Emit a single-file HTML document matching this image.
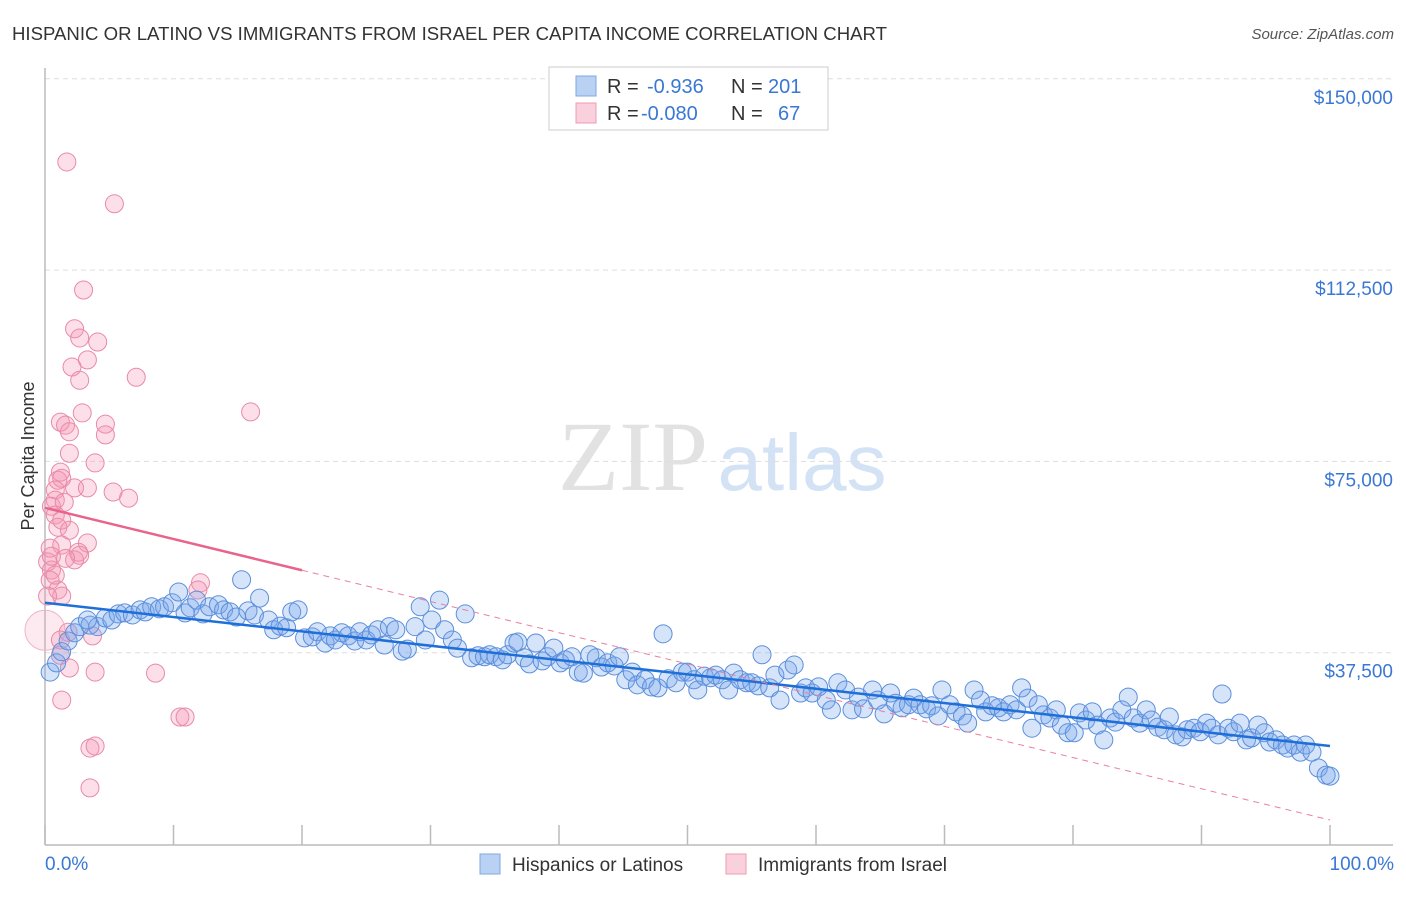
<!DOCTYPE html>
<html><head><meta charset="utf-8"><style>
body{margin:0;background:#fff;font-family:"Liberation Sans",sans-serif}
svg text{font-family:"Liberation Sans",sans-serif}
</style></head><body>
<svg id="chart" width="1406" height="892" viewBox="0 0 1406 892">
<text x="12" y="40" font-size="18" fill="#333" textLength="875" lengthAdjust="spacingAndGlyphs">HISPANIC OR LATINO VS IMMIGRANTS FROM ISRAEL PER CAPITA INCOME CORRELATION CHART</text>
<text x="1394" y="39" font-size="15" fill="#555" font-style="italic" text-anchor="end">Source: ZipAtlas.com</text>
<text x="34" y="456" font-size="18" fill="#333" text-anchor="middle" transform="rotate(-90 34 456)">Per Capita Income</text>
<g>
<text x="633" y="490" font-size="100" fill="#e2e2e2" text-anchor="middle" style="font-family:'Liberation Serif',serif">ZIP</text>
<text x="802" y="490" font-size="80" fill="#d3e2f4" text-anchor="middle">atlas</text>
</g>
<g id="grid"></g>
<g id="axes"></g>
<g id="marks"></g>
<g>
<rect x="549" y="67" width="279" height="63" fill="#fff" stroke="#ccc"/>
<rect x="576" y="76" width="20" height="20" fill="#b9d2f3" stroke="#7fa8e2"/>
<text x="607" y="93" font-size="20" fill="#333">R = </text>
<text x="647" y="93" font-size="20" fill="#3a78d4">-0.936</text>
<text x="731" y="93" font-size="20" fill="#333">N =</text>
<text x="768" y="93" font-size="20" fill="#3a78d4">201</text>
<rect x="576" y="103" width="20" height="20" fill="#fbd0dd" stroke="#eb9db4"/>
<text x="607" y="120" font-size="20" fill="#333">R = </text>
<text x="641" y="120" font-size="20" fill="#3a78d4">-0.080</text>
<text x="731" y="120" font-size="20" fill="#333">N =</text>
<text x="778" y="120" font-size="20" fill="#3a78d4">67</text>
</g>
<g>
<rect x="480" y="854" width="20" height="20" fill="#b9d2f3" stroke="#7fa8e2"/>
<text x="512" y="871" font-size="19" fill="#333">Hispanics or Latinos</text>
<rect x="726" y="854" width="20" height="20" fill="#fbd0dd" stroke="#eb9db4"/>
<text x="758" y="871" font-size="19" fill="#333">Immigrants from Israel</text>
</g>
<text x="45" y="870" font-size="19" fill="#3a78d4">0.0%</text>
<text x="1394" y="870" font-size="19" fill="#3a78d4" text-anchor="end">100.0%</text>
</svg>
<script>
const yTicks=[37500,75000,112500,150000];
const yTickLabels=["$37,500","$75,000","$112,500","$150,000"];
const xTicks=[0,10,20,30,40,50,60,70,80,90,100];
const blueX=[0.4,0.9,1.3,1.8,2.3,2.7,3.5,4.1,3.3,4.7,5.2,5.7,6.2,6.8,7.4,7.8,8.3,8.9,9.3,9.9,10.4,10.9,11.3,11.8,12.3,12.8,13.5,13.9,14.4,14.9,15.3,15.8,16.3,16.7,17.4,17.8,18.3,18.8,19.2,19.7,20.2,20.8,21.2,21.8,22.2,22.6,23.1,23.6,24.1,24.5,25.0,25.4,25.9,26.4,26.8,27.3,27.8,28.2,28.8,29.2,29.6,30.1,30.7,31.1,31.7,32.1,32.7,33.2,33.7,34.2,34.6,35.1,35.6,36.0,36.5,36.8,37.3,37.7,38.2,38.7,39.1,39.6,40.1,40.5,41.0,41.5,41.9,42.4,42.9,43.3,43.8,44.3,44.7,45.2,45.7,46.1,46.7,47.2,47.7,48.1,48.5,49.1,49.6,50.0,50.5,50.8,51.3,51.8,52.2,52.7,53.2,53.6,54.1,54.6,55.0,55.5,55.8,56.4,56.8,57.2,57.8,58.3,58.8,59.2,59.7,60.2,60.8,61.2,61.7,62.3,62.8,63.3,63.7,64.4,64.8,65.3,65.8,66.2,66.7,67.2,67.6,68.1,68.6,69.0,69.5,69.8,70.4,70.9,71.4,71.8,72.3,72.8,73.2,73.7,74.2,74.6,75.1,75.6,76.0,76.5,76.8,77.3,77.7,78.2,78.7,79.1,79.6,80.1,80.5,81.0,81.5,81.9,82.4,82.9,83.3,83.8,84.3,84.7,85.2,85.7,86.1,86.6,87.1,87.5,88.0,88.5,88.9,89.4,89.9,90.4,90.8,91.3,91.6,92.1,92.5,93.0,93.5,93.9,94.4,94.9,95.3,95.8,96.3,96.7,97.2,97.7,98.1,98.6,99.1,99.7,100.0];
const blueY=[33.7,35.5,37.7,39.8,41.4,42.6,42.9,42.6,43.9,44.3,43.9,45.1,45.3,44.9,45.9,45.5,46.5,46.1,46.5,47.3,49.4,45.3,46.3,47.8,45.1,46.5,46.9,45.9,45.5,44.5,51.8,45.7,44.9,48.2,43.9,42.0,42.7,42.4,45.5,45.9,40.4,40.6,41.6,39.4,40.8,40.0,41.4,40.8,39.8,41.6,40.0,41.0,42.0,39.0,42.6,42.0,37.8,38.2,42.6,46.5,40.0,43.9,47.8,42.0,40.0,38.4,45.1,36.5,36.9,36.7,37.1,36.7,36.1,37.1,39.4,39.6,36.5,35.3,39.4,35.9,36.7,38.4,35.5,36.1,36.7,33.7,33.5,37.1,36.5,34.7,35.5,34.9,36.7,32.2,33.7,31.2,32.2,30.8,30.6,41.2,32.4,31.6,33.7,33.7,32.2,30.2,32.9,32.6,33.1,32.2,30.2,33.5,32.2,31.6,31.6,31.0,37.1,30.6,33.1,28.2,34.1,35.1,29.6,30.6,29.6,30.8,28.2,26.3,31.6,30.2,26.3,28.8,26.5,30.2,28.2,25.5,29.6,27.6,26.7,27.3,28.6,27.3,26.5,27.1,25.1,30.2,27.3,25.9,25.1,23.7,30.2,28.2,25.9,27.1,26.7,25.9,27.3,26.3,30.6,28.6,22.7,27.3,25.3,24.7,26.3,23.3,21.8,21.8,25.7,24.3,25.9,23.3,20.4,24.7,23.9,26.3,28.8,24.7,23.7,26.3,24.3,22.9,22.4,24.9,21.4,21.0,22.4,22.7,22.0,23.7,22.7,21.4,29.4,22.7,22.0,23.7,20.4,20.8,23.3,21.8,20.0,20.4,19.4,18.8,19.4,18.0,19.4,18.0,14.9,13.5,13.3];
const pinkX=[1.7,5.4,3.0,2.3,2.7,4.1,3.3,2.1,2.7,7.1,16.0,2.9,1.2,1.6,1.9,4.7,4.7,1.9,3.9,1.2,1.0,1.3,0.8,2.3,5.3,6.5,3.3,0.8,0.5,1.5,0.8,1.0,1.9,3.3,1.3,2.7,2.3,0.4,0.2,0.5,0.4,1.0,1.3,12.1,11.9,0.0,1.8,3.7,1.2,1.9,3.9,8.6,1.3,10.5,10.9,3.5,3.9,3.5,0.2,0.5,1.2,0.8,1.3,2.6,1.6];
const pinkY=[133.7,125.5,108.6,101.0,99.2,98.4,94.9,93.5,90.9,91.5,84.7,84.5,82.7,82.1,80.8,82.3,80.2,76.6,74.7,72.9,71.3,71.7,69.4,69.8,69.0,67.8,69.8,67.4,66.2,67.0,64.5,62.1,61.5,59.0,58.6,56.6,55.7,58.0,55.3,53.7,51.7,49.8,48.6,51.2,49.8,41.9,41.5,40.8,37.0,34.5,33.7,33.5,28.2,24.9,24.9,18.8,19.2,11.0,48.6,56.4,40.0,52.7,63.5,57.2,56.0];
const blueTrend=[47.3,19.2];
const pinkTrend=[65.9,4.7];
const pinkSolidEnd=20;

const NS="http://www.w3.org/2000/svg";
const X0=45,X1=1330,YB=844,PXPERK=191.3/37.5;
function sx(v){return X0+(X1-X0)*v/100;}
function sy(k){return YB-k*PXPERK;}
function mk(tag,attrs,parent){const e=document.createElementNS(NS,tag);for(const k in attrs)e.setAttribute(k,attrs[k]);parent.appendChild(e);return e;}
const grid=document.getElementById('grid'),axes=document.getElementById('axes'),marks=document.getElementById('marks');
yTicks.forEach((t,i)=>{
  const y=sy(t/1000);
  const l=mk('line',{x1:45,x2:1393,y1:y,y2:y,stroke:'#ddd','stroke-dasharray':'5,4'},grid);
  
  
  const tx=mk('text',{x:1393,y:y+25,'font-size':19,fill:'#3a78d4','text-anchor':'end'},axes);
  tx.textContent=yTickLabels[i];
  
  
});
const ax=mk('line',{x1:45,x2:45,y1:68,y2:845,stroke:'#bbb','stroke-width':1.5},axes);


const bx=mk('line',{x1:45,x2:1393,y1:845,y2:845,stroke:'#bbb','stroke-width':1.5},axes);


xTicks.forEach(t=>{
  const tk=mk('line',{x1:sx(t),x2:sx(t),y1:825,y2:845,stroke:'#bbb','stroke-width':1.5},axes);
  
  
});
pinkX.forEach((x,i)=>{
  const big=(x===0);
  const c=mk('circle',{cx:sx(x),cy:sy(pinkY[i]),r:big?20:9,fill:big?'rgba(244,160,185,0.22)':'rgba(244,150,178,0.3)',stroke:big?'#f0b4c6':'#e88aa8','stroke-width':1},marks);
  
  
});
blueX.forEach((x,i)=>{
  const c=mk('circle',{cx:sx(x),cy:sy(blueY[i]),r:9,fill:'rgba(120,165,235,0.3)',stroke:'#5b8fdc','stroke-width':1},marks);
  
  
});
const bl=mk('line',{x1:sx(0),y1:sy(blueTrend[0]),x2:sx(100),y2:sy(blueTrend[1]),stroke:'#1f6fd8','stroke-width':2.5},marks);


const pAt=v=>pinkTrend[0]+(pinkTrend[1]-pinkTrend[0])*v/100;
const pd=mk('line',{x1:sx(pinkSolidEnd),y1:sy(pAt(pinkSolidEnd)),x2:sx(100),y2:sy(pinkTrend[1]),stroke:'#e8809f','stroke-width':1,'stroke-dasharray':'6,5'},marks);


const pl=mk('line',{x1:sx(0),y1:sy(pinkTrend[0]),x2:sx(pinkSolidEnd),y2:sy(pAt(pinkSolidEnd)),stroke:'#e8648c','stroke-width':2.5},marks);


</script>
</body></html>
